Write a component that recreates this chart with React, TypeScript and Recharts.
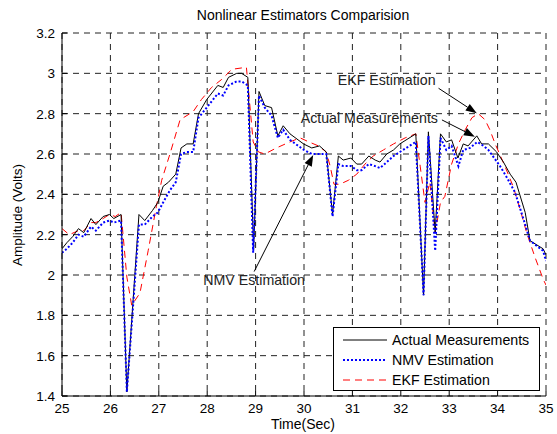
import { CartesianGrid, Legend, Line, LineChart, ReferenceLine, XAxis, YAxis } from "recharts";

const xTicks = [25, 26, 27, 28, 29, 30, 31, 32, 33, 34, 35];
const yTicks = [1.4, 1.6, 1.8, 2.0, 2.2, 2.4, 2.6, 2.8, 3.0, 3.2];

// Actual Measurements
const actualTime = [
    25.0, 25.1, 25.22, 25.34, 25.45, 25.6, 25.7, 25.85, 25.98, 26.07, 26.22, 26.34, 26.59, 26.71, 26.87, 26.98,
    27.09, 27.2, 27.35, 27.46, 27.58, 27.71, 27.82, 27.99, 28.22, 28.33, 28.44, 28.61, 28.71, 28.84, 28.96,
    29.07, 29.19, 29.33, 29.46, 29.57, 29.71, 29.99, 30.16, 30.32, 30.46, 30.59, 30.71, 30.81, 30.97, 31.09,
    31.19, 31.34, 31.47, 31.57, 31.71, 31.85, 31.98, 32.31, 32.47, 32.57, 32.71, 32.82, 32.94, 33.05, 33.18,
    33.29, 33.39, 33.57, 33.67, 33.81, 33.98, 34.12, 34.26, 34.38, 34.57, 34.67, 34.94, 35.0,
];
const actualValue = [
    2.13, 2.16, 2.19, 2.23, 2.21, 2.28, 2.25, 2.29, 2.3, 2.28, 2.3, 1.42, 2.3, 2.27, 2.32, 2.36,
    2.44, 2.46, 2.5, 2.63, 2.65, 2.65, 2.8, 2.87, 2.94, 2.93, 2.98, 3.0, 3.0, 2.98, 2.13,
    2.91, 2.84, 2.83, 2.69, 2.74, 2.7, 2.65, 2.63, 2.64, 2.61, 2.3, 2.59, 2.57, 2.58, 2.55,
    2.55, 2.59, 2.57, 2.56, 2.6, 2.62, 2.65, 2.7, 1.9, 2.71, 2.21, 2.7, 2.66, 2.67, 2.58,
    2.65, 2.64, 2.69, 2.65, 2.65, 2.61, 2.56, 2.5, 2.46, 2.31, 2.17, 2.13, 2.1,
];

// NMV Estimation
const nmvTime = [
    25.0, 25.1, 25.22, 25.34, 25.45, 25.6, 25.7, 25.85, 25.98, 26.07, 26.22, 26.34, 26.59, 26.71, 26.87, 26.98,
    27.09, 27.23, 27.35, 27.46, 27.58, 27.71, 27.82, 27.99, 28.22, 28.33, 28.44, 28.61, 28.71, 28.84, 28.95,
    29.07, 29.19, 29.33, 29.46, 29.57, 29.71, 30.0, 30.16, 30.32, 30.46, 30.59, 30.71, 30.81, 30.97, 31.09,
    31.19, 31.34, 31.47, 31.57, 31.71, 31.85, 31.98, 32.31, 32.47, 32.57, 32.71, 32.82, 32.94, 33.05, 33.19,
    33.29, 33.43, 33.58, 33.71, 33.81, 34.05, 34.2, 34.36, 34.57, 34.67, 34.94, 35.0,
];
const nmvValue = [
    2.11, 2.13, 2.16, 2.2, 2.19, 2.24, 2.22, 2.26, 2.27, 2.26, 2.27, 1.42, 2.25, 2.25, 2.29, 2.31,
    2.36, 2.42, 2.46, 2.6, 2.61, 2.61, 2.78, 2.83, 2.9, 2.89, 2.94, 2.96, 2.96, 2.94, 2.11,
    2.89, 2.83, 2.79, 2.68, 2.72, 2.67, 2.62, 2.6, 2.6, 2.6, 2.29, 2.55, 2.54, 2.54, 2.52,
    2.52, 2.55, 2.54, 2.53, 2.56, 2.59, 2.61, 2.66, 1.9, 2.69, 2.12, 2.68, 2.62, 2.64, 2.54,
    2.62, 2.63, 2.66, 2.64, 2.62, 2.54, 2.48, 2.41, 2.25, 2.17, 2.12, 2.07,
];

// EKF Estimation
const ekfTime = [
    25.0, 25.15, 25.34, 25.45, 25.6, 25.7, 25.85, 25.98, 26.1, 26.22, 26.34, 26.44, 26.61, 26.78, 26.95, 27.06,
    27.23, 27.44, 27.71, 27.88, 28.09, 28.3, 28.51, 28.81, 28.95, 29.06, 29.19, 29.43, 29.71, 29.92, 30.1,
    30.3, 30.46, 30.54, 30.62, 30.74, 30.92, 31.09, 31.26, 31.43, 31.64, 31.85, 32.09, 32.31, 32.4, 32.5,
    32.6, 32.71, 32.82, 32.91, 33.05, 33.19, 33.33, 33.47, 33.6, 33.74, 33.84, 33.95, 34.15, 34.32, 34.46,
    34.6, 34.77, 34.94, 35.0,
];
const ekfValue = [
    2.23, 2.2, 2.22, 2.22, 2.26, 2.26, 2.28, 2.3, 2.29, 2.31, 1.99, 1.85, 1.91, 2.12, 2.34, 2.47,
    2.6, 2.77, 2.81, 2.87, 2.93, 2.97, 3.02, 3.03, 2.66, 2.61, 2.6, 2.63, 2.66, 2.68, 2.66,
    2.64, 2.61, 2.54, 2.45, 2.45, 2.47, 2.5, 2.55, 2.59, 2.62, 2.65, 2.68, 2.7, 2.54, 2.36,
    2.46, 2.21, 2.36, 2.39, 2.55, 2.65, 2.72, 2.78, 2.8, 2.77, 2.72, 2.65, 2.54, 2.44, 2.33,
    2.21, 2.09, 1.98, 1.95,
];

const actualData = actualTime.map((t, i) => ({ t, v: actualValue[i] }));
const nmvData = nmvTime.map((t, i) => ({ t, v: nmvValue[i] }));
const ekfData = ekfTime.map((t, i) => ({ t, v: ekfValue[i] }));

const font = "'Liberation Sans', Arial, sans-serif";

function fmt(v: number) {
    return String(Number(v.toFixed(1)));
}

function BottomTick({ x, y, payload }: any) {
    return (
        <g>
            <line x1={x} y1={y} x2={x} y2={y - 5} stroke="#000" />
            <text x={x} y={y + 17} textAnchor="middle" fontSize={13.5} fontFamily={font} fill="#000">
                {payload.value}
            </text>
        </g>
    );
}

function TopTick({ x, y }: any) {
    return <line x1={x} y1={y} x2={x} y2={y + 5} stroke="#000" />;
}

function LeftTick({ x, y, payload }: any) {
    return (
        <g>
            <line x1={x} y1={y} x2={x + 5} y2={y} stroke="#000" />
            <text x={x - 7} y={y + 5} textAnchor="end" fontSize={13.5} fontFamily={font} fill="#000">
                {fmt(payload.value)}
            </text>
        </g>
    );
}

function RightTick({ x, y }: any) {
    return <line x1={x} y1={y} x2={x - 5} y2={y} stroke="#000" />;
}

function arrow(label: string, dx: number, dy: number, anchor: string) {
    return (props: any) => {
        const { x1, y1, x2, y2 } = props;
        const ang = Math.atan2(y2 - y1, x2 - x1);
        const len = 11;
        const w = 4;
        const bx = x2 - len * Math.cos(ang);
        const by = y2 - len * Math.sin(ang);
        const px = -Math.sin(ang) * w;
        const py = Math.cos(ang) * w;
        return (
            <g>
                <line x1={x1} y1={y1} x2={bx} y2={by} stroke="#000" strokeWidth={1} />
                <polygon points={`${x2},${y2} ${bx + px},${by + py} ${bx - px},${by - py}`} fill="#000" />
                <text x={x1 + dx} y={y1 + dy} textAnchor={anchor} fontSize={14.2} fontFamily={font} fill="#222">
                    {label}
                </text>
            </g>
        );
    };
}

function LegendBox() {
    const rows = [
        { name: "Actual Measurements", color: "#000", dash: undefined, width: 1 },
        { name: "NMV Estimation", color: "#0000ff", dash: "2 2", width: 2 },
        { name: "EKF Estimation", color: "#ff0000", dash: "7 5", width: 1 },
    ];
    return (
        <div
            style={{
                width: 207,
                height: 64,
                border: "1px solid #000",
                background: "#fff",
                fontFamily: font,
                fontSize: 14.2,
                paddingTop: 2,
                boxSizing: "border-box",
            }}
        >
            {rows.map((r) => (
                <div key={r.name} style={{ display: "flex", alignItems: "center", height: 20 }}>
                    <svg width={58} height={10}>
                        <line x1={9} y1={5} x2={53} y2={5} stroke={r.color} strokeWidth={r.width} strokeDasharray={r.dash} />
                    </svg>
                    <span>{r.name}</span>
                </div>
            ))}
        </div>
    );
}

export default function App() {
    return (
        <div style={{ width: 557, height: 434, background: "#fff" }}>
            <style>{"body{margin:0}"}</style>
            <LineChart width={557} height={434} margin={{ top: 33, right: 11, bottom: 18, left: 22 }}>
                <CartesianGrid stroke="#222" strokeDasharray="6 5" />
                <XAxis
                    dataKey="t"
                    type="number"
                    domain={[25, 35]}
                    ticks={xTicks}
                    allowDataOverflow
                    height={20}
                    tickSize={0}
                    tickMargin={0}
                    tickLine={false}
                    axisLine={{ stroke: "#000" }}
                    tick={<BottomTick />}
                    interval={0}
                />
                <XAxis
                    xAxisId="top"
                    orientation="top"
                    type="number"
                    domain={[25, 35]}
                    ticks={xTicks}
                    height={0}
                    tickSize={0}
                    tickMargin={0}
                    tickLine={false}
                    axisLine={{ stroke: "#000" }}
                    tick={<TopTick />}
                    interval={0}
                />
                <YAxis
                    type="number"
                    domain={[1.4, 3.2]}
                    ticks={yTicks}
                    allowDataOverflow
                    width={40}
                    tickSize={0}
                    tickMargin={0}
                    tickLine={false}
                    axisLine={{ stroke: "#000" }}
                    tick={<LeftTick />}
                    interval={0}
                />
                <YAxis
                    yAxisId="right"
                    orientation="right"
                    type="number"
                    domain={[1.4, 3.2]}
                    ticks={yTicks}
                    width={0}
                    tickSize={0}
                    tickMargin={0}
                    tickLine={false}
                    axisLine={{ stroke: "#000" }}
                    tick={<RightTick />}
                    interval={0}
                />
                <Line data={ekfData} dataKey="v" type="linear" stroke="#ff0000" strokeWidth={1} strokeDasharray="7 5" dot={false} isAnimationActive={false} />
                <Line data={actualData} dataKey="v" type="linear" stroke="#000" strokeWidth={1} dot={false} isAnimationActive={false} />
                <Line data={nmvData} dataKey="v" type="linear" stroke="#0000ff" strokeWidth={2} strokeDasharray="2 2" dot={false} isAnimationActive={false} />
                <ReferenceLine segment={[{ x: 32.78, y: 2.926 }, { x: 33.57, y: 2.802 }]} shape={arrow("EKF Estimation", -3, -3, "end")} />
                <ReferenceLine segment={[{ x: 32.85, y: 2.769 }, { x: 33.53, y: 2.686 }]} shape={arrow("Actual Measurements", -4, 3, "end")} />
                <ReferenceLine segment={[{ x: 28.97, y: 2.017 }, { x: 30.19, y: 2.595 }]} shape={arrow("NMV Estimation", 0, 13, "middle")} />
                <Legend
                    layout="vertical"
                    align="center"
                    verticalAlign="middle"
                    content={<LegendBox />}
                    wrapperStyle={{ left: 333, top: 327, width: 207 }}
                />
                <text x={303} y={20} textAnchor="middle" fontSize={14} fontFamily={font} fill="#000">
                    Nonlinear Estimators Comparision
                </text>
                <text x={303} y={429} textAnchor="middle" fontSize={14} fontFamily={font} fill="#000">
                    Time(Sec)
                </text>
                <text x={22} y={215} textAnchor="middle" fontSize={13.5} fontFamily={font} fill="#000" transform="rotate(-90 22 215)">
                    Amplitude (Volts)
                </text>
            </LineChart>
        </div>
    );
}
